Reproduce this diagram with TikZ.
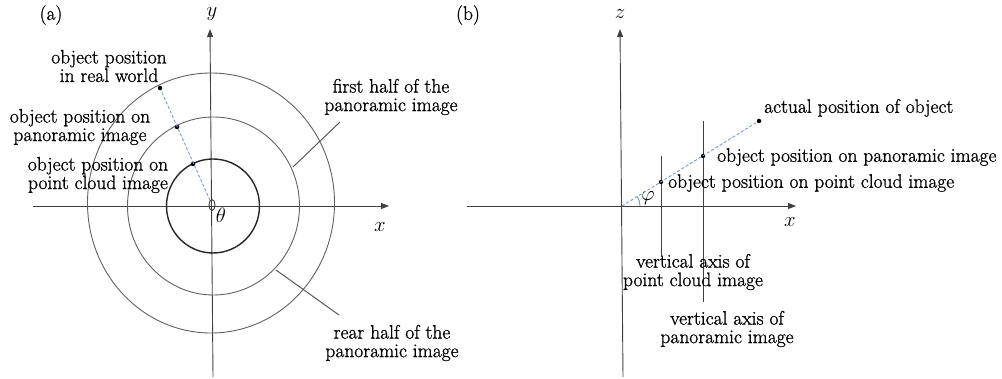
\documentclass[tikz,border=0pt]{standalone}
\usepackage{fontspec}
\newfontfamily\lblfont{Latin Modern Roman}[FakeBold=1.0]
\usetikzlibrary{arrows.meta,shapes.geometric}
\definecolor{raycol}{RGB}{115,155,215}
\begin{document}
\begin{tikzpicture}[x=1pt,y=-1pt,
  axis/.style={draw=black!75, line width=0.9pt},
  axarrow/.style={axis, -{Triangle[length=8pt,width=6pt]}},
  ring/.style={draw=black!62, line width=0.9pt},
  ringdark/.style={draw=black!85, line width=1.4pt},
  ray/.style={draw=raycol, line width=0.9pt, dash pattern=on 3pt off 2pt},
  dot/.style={circle, fill=black, inner sep=0pt, minimum size=4.5pt},
  lbl/.style={font=\lblfont\fontsize{19.5}{18.5}\selectfont, inner sep=0pt, align=center},
  mlbl/.style={font=\fontsize{22}{22}\selectfont, inner sep=0pt},
  leader/.style={draw=black!70, line width=0.9pt}
]
\useasboundingbox (0,0) rectangle (1002,379);

% ---------- panel (a) ----------
\node[lbl] (alab) at (51,15) {(a)};
\coordinate (ya0) at (213,377);
\coordinate (ya1) at (210,29);
\coordinate (xa0) at (33,206);
\coordinate (xa1) at (389,206);
\draw[axarrow] (ya0) -- (ya1);
\draw[axarrow] (xa0) -- (xa1);
\node[mlbl] (ylab) at (212,14) {$y$};
\node[mlbl] (xlab) at (380,227) {$x$};

\draw[ring] (211,203) ellipse [x radius=123.5pt, y radius=130pt];
\draw[ring] (213.5,206) ellipse [x radius=86pt, y radius=89pt];
\draw[ringdark] (213,206) ellipse [x radius=46.5pt, y radius=47pt];

\node[draw=black!80, line width=0.9pt, ellipse, minimum width=6pt, minimum height=11pt, inner sep=0pt] (Oa) at (212,205) {};
\node[mlbl] (theta) at (221,215) {$\theta$};

\node[dot] (pr) at (160,88) {};
\node[dot] (pp) at (177,127) {};
\node[dot] (pc) at (193,164) {};
\draw[ray] (Oa) -- (pr);

\node[lbl] (lreal) at (109,66) {object position\\in real world};
\node[lbl] (lpan) at (80,127) {object position on\\panoramic image};
\node[lbl] (lpc) at (98,175) {object position on\\point cloud image};
\node[lbl] (lfirst) at (391,97) {first half of the\\panoramic image};
\node[lbl] (lrear) at (392,343) {rear half of the\\panoramic image};

\coordinate (f0) at (340,122);
\coordinate (f1) at (293,167);
\draw[leader] (f0) -- (f1);
\coordinate (r0) at (276,270);
\coordinate (r1) at (339,315);
\draw[leader] (r0) -- (r1);

% ---------- panel (b) ----------
\node[lbl] (blab) at (468,15) {(b)};
\coordinate (za0) at (623,377);
\coordinate (za1) at (620,29);
\coordinate (xb0) at (467,206);
\coordinate (xb1) at (796,206);
\draw[axarrow] (za0) -- (za1);
\draw[axarrow] (xb0) -- (xb1);
\node[mlbl] (zlab) at (620,14) {$z$};
\node[mlbl] (xblab) at (790,222) {$x$};

\coordinate (Ob) at (622,206);
\coordinate (vc0) at (661,156);
\coordinate (vc1) at (661,257);
\coordinate (vp0) at (703,121);
\coordinate (vp1) at (703,302);
\draw[axis] (vc0) -- (vc1);
\draw[axis] (vp0) -- (vp1);

\node[dot] (pa2) at (759,121) {};
\node[dot] (pp2) at (703,156) {};
\node[dot] (pc2) at (661,182) {};
\draw[ray] (Ob) -- (pa2);
\draw[draw=raycol, line width=0.9pt] (Ob) ++(18pt,0pt) arc[start angle=0, end angle=32, radius=18pt];
\node[mlbl] (phi) at (648,198) {$\varphi$};

\node[lbl, anchor=west] (lact) at (764,108) {actual position of object};
\node[lbl, anchor=west] (lpan2) at (717,157) {object position on panoramic image};
\node[lbl, anchor=west] (lpc2) at (668,183) {object position on point cloud image};
\node[lbl] (lvc) at (693,272) {vertical axis of\\point cloud image};
\node[lbl] (lvp) at (727,329) {vertical axis of\\panoramic image};
\end{tikzpicture}
\end{document}
